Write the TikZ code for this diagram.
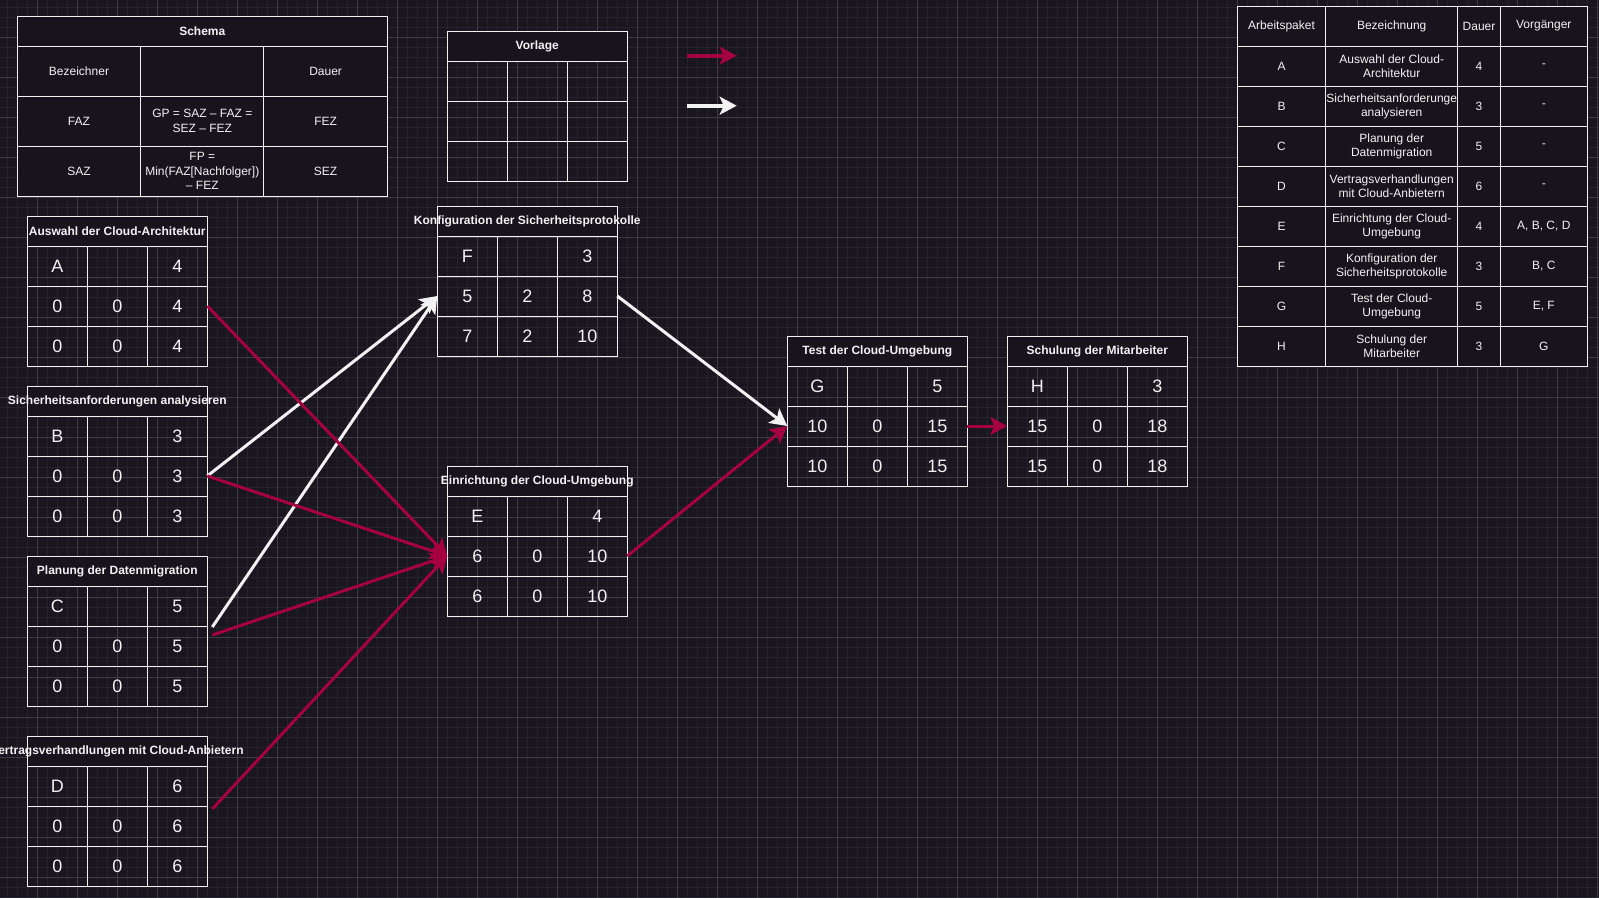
\documentclass[tikz,border=0pt]{standalone}
\usepackage{fontspec}
\setmainfont{Liberation Sans}
\usetikzlibrary{calc, arrows.meta}

\definecolor{hgrund}{HTML}{19161F}
\definecolor{rasterfein}{HTML}{25222C}
\definecolor{rastergrob}{HTML}{3D3B45}
\definecolor{tabfuell}{HTML}{18141D}
\definecolor{linie}{HTML}{F2F2F2}
\definecolor{rot}{HTML}{A50040}

\tikzstyle{zelle} = [rectangle, draw=linie, line width=1pt, minimum width=60pt,
    minimum height=40pt, inner sep=0pt, outer sep=0pt, text=linie, font=\fontsize{18}{21}\selectfont]
\tikzstyle{kopf} = [zelle, fill=tabfuell, minimum width=180pt, minimum height=30pt,
    font=\bfseries\fontsize{12}{14}\selectfont]
\tikzstyle{tabzelle} = [zelle, fill=tabfuell, align=center, font=\fontsize{12}{14}\selectfont]
\tikzstyle{schemazelle} = [tabzelle, minimum width=123.33pt, minimum height=50pt,
    font=\fontsize{12}{14.5}\selectfont]
\tikzstyle{pfeilrot} = [line width=3pt, draw=rot, ->, >={Stealth[length=17pt, width=18pt, inset=4pt]}]
\tikzstyle{pfeilweiss} = [pfeilrot, draw=linie]

% Netzplan-Knoten: Name, links, oben, Titel, Zeilen
\newcommand{\paket}[5]{%
    \node[kopf] (#1-Kopf) at (#2+90,#3+15) {\makebox[0pt]{#4}};
    \foreach \za/\zb/\zc [count=\zi] in {#5} {
        \node[zelle] (#1-\zi1) at (#2+30,#3+10+40*\zi) {\za};
        \node[zelle] (#1-\zi2) at (#2+90,#3+10+40*\zi) {\zb};
        \node[zelle] (#1-\zi3) at (#2+150,#3+10+40*\zi) {\zc};
    }
}

\begin{document}
\begin{tikzpicture}[x=1pt, y=-1pt]
    \useasboundingbox (0,0) rectangle (1599,898);
    \fill[hgrund] (0,0) rectangle (1599,898);
    % Raster
    \foreach \gx in {7,17,...,1597} \draw[rasterfein, line width=1pt] (\gx,0) -- (\gx,898);
    \foreach \gy in {7,17,...,897} \draw[rasterfein, line width=1pt] (0,\gy) -- (1599,\gy);
    \foreach \gx in {37,77,...,1597} \draw[rastergrob, line width=1pt] (\gx,0) -- (\gx,898);
    \foreach \gy in {37,77,...,877} \draw[rastergrob, line width=1pt] (0,\gy) -- (1599,\gy);

    % Schema
    \node[schemazelle, minimum width=370pt, minimum height=30pt, font=\bfseries\fontsize{12}{14}\selectfont] (SchemaKopf) at (202.3,31) {Schema};
    \node[schemazelle] (Schema-11) at (79,71) {Bezeichner};
    \node[schemazelle] (Schema-12) at (202.3,71) {};
    \node[schemazelle] (Schema-13) at (325.6,71) {Dauer};
    \node[schemazelle] (Schema-21) at (79,121) {FAZ};
    \node[schemazelle] (Schema-22) at (202.3,121) {GP = SAZ – FAZ =\\SEZ – FEZ};
    \node[schemazelle] (Schema-23) at (325.6,121) {FEZ};
    \node[schemazelle] (Schema-31) at (79,171) {SAZ};
    \node[schemazelle] (Schema-32) at (202.3,171) {FP =\\Min(FAZ[Nachfolger])\\– FEZ};
    \node[schemazelle] (Schema-33) at (325.6,171) {SEZ};

    % Vorlage und Legende
    \paket{V}{447.3}{31.3}{Vorlage}{//, //, //}
    \coordinate (LegRotA) at (686.7,55.7);
    \coordinate (LegRotB) at (736.7,55.7);
    \coordinate (LegWeissA) at (686.7,105.7);
    \coordinate (LegWeissB) at (736.7,105.7);
    \draw [pfeilrot, line width=4pt] (LegRotA) -- (LegRotB);
    \draw [pfeilweiss, line width=4pt] (LegWeissA) -- (LegWeissB);

    % Arbeitspakete
    \paket{A}{27.3}{216}{Auswahl der Cloud-Architektur}{A//4, 0/0/4, 0/0/4}
    \paket{B}{27.3}{386}{Sicherheitsanforderungen analysieren}{B//3, 0/0/3, 0/0/3}
    \paket{C}{27.3}{556}{Planung der Datenmigration}{C//5, 0/0/5, 0/0/5}
    \paket{D}{27.3}{736}{Vertragsverhandlungen mit Cloud-Anbietern}{D//6, 0/0/6, 0/0/6}
    \paket{F}{437.3}{206}{Konfiguration der Sicherheitsprotokolle}{F//3, 5/2/8, 7/2/10}
    \paket{E}{447.3}{466}{Einrichtung der Cloud-Umgebung}{E//4, 6/0/10, 6/0/10}
    \paket{G}{787.3}{336}{Test der Cloud-Umgebung}{G//5, 10/0/15, 10/0/15}
    \paket{H}{1007.3}{336}{Schulung der Mitarbeiter}{H//3, 15/0/18, 15/0/18}

    % Tabelle
    \foreach \ka/\kb/\kc/\kd [count=\zi] in {Arbeitspaket/Bezeichnung/Dauer/Vorgänger,
        A/{Auswahl der Cloud-\\Architektur}/4/-,
        B/{Sicherheitsanforderunge\\analysieren}/3/-,
        C/{Planung der\\Datenmigration}/5/-,
        D/{Vertragsverhandlungen\\mit Cloud-Anbietern}/6/-,
        E/{Einrichtung der Cloud-\\Umgebung}/4/{A, B, C, D},
        F/{Konfiguration der\\Sicherheitsprotokolle}/3/{B, C},
        G/{Test der Cloud-\\Umgebung}/5/{E, F},
        H/{Schulung der\\Mitarbeiter}/3/G} {
        \node[tabzelle, minimum width=88.4pt] (Tab-\zi1) at (1281.5,-14+40*\zi) {\ka};
        \node[tabzelle, minimum width=132pt] (Tab-\zi2) at (1391.7,-14+40*\zi) {\kb};
        \node[tabzelle, minimum width=42.6pt] (Tab-\zi3) at (1479,-14+40*\zi) {\kc};
        \node[tabzelle, minimum width=87pt] (Tab-\zi4) at (1543.8,-14+40*\zi) {\kd};
    }

    % Pfeile
    \draw [pfeilweiss] (B-23.east) -- (F-21.west);
    \draw [pfeilweiss] ($(C-23.north east)+(5,1)$) -- (F-21.west);
    \draw [pfeilrot] (A-23.east) -- (E-21.west);
    \draw [pfeilrot] (B-23.east) -- (E-21.west);
    \draw [pfeilrot] ($(C-23.north east)+(5,9)$) -- (E-21.west);
    \draw [pfeilrot] ($(D-23.north east)+(5,3)$) -- (E-21.west);
    \draw [pfeilweiss] (F-23.east) -- (G-21.west);
    \draw [pfeilrot] (E-23.east) -- (G-21.west);
    \draw [pfeilrot] (G-23.east) -- (H-21.west);
\end{tikzpicture}
\end{document}
